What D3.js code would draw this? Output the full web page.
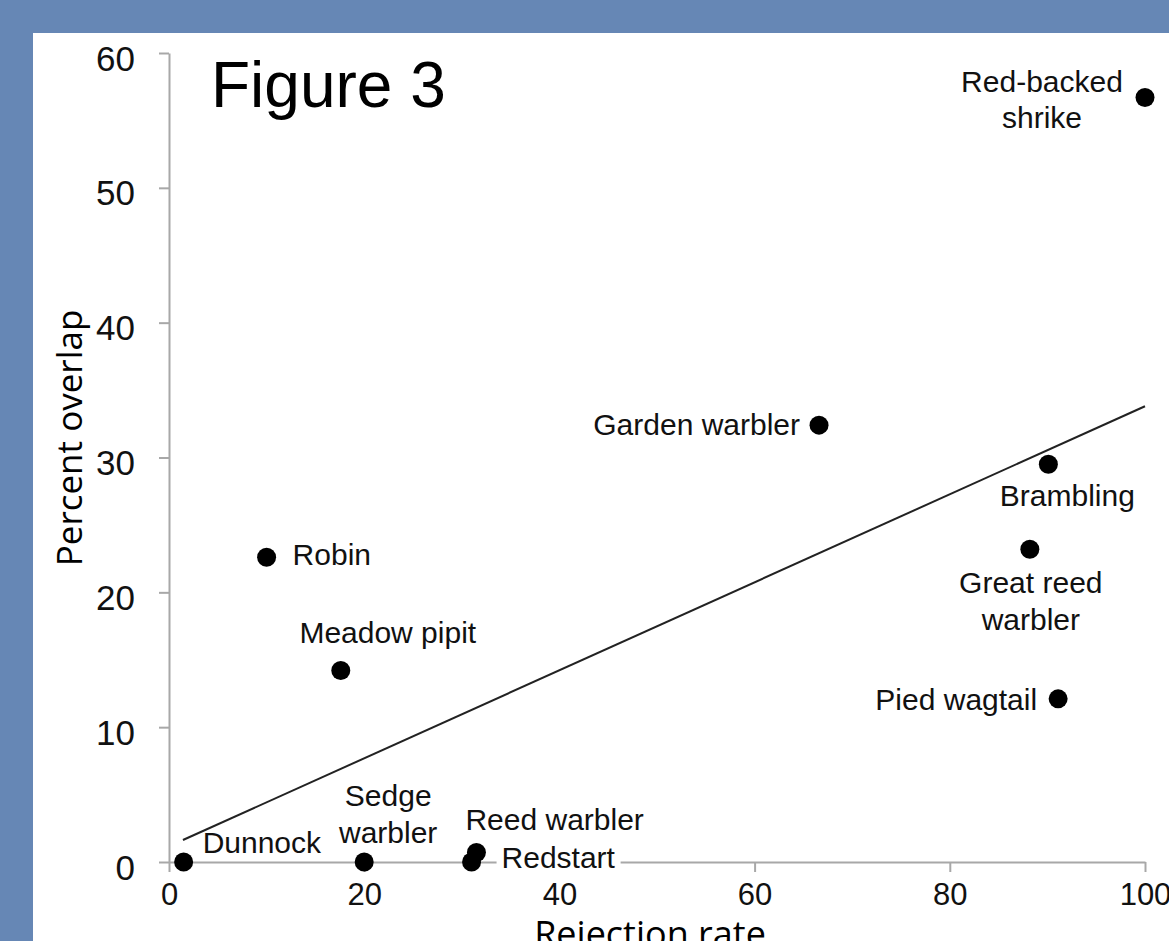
<!DOCTYPE html>
<html>
<head>
<meta charset="utf-8">
<script src="https://cdn.jsdelivr.net/npm/d3@7"></script>
<style>
  html, body { margin: 0; padding: 0; background: #6687b5; }
  svg { display: block; }
</style>
</head>
<body>
<script>
// ---- data ----
const species = ["Red-backed shrike", "Garden warbler", "Brambling", "Great reed warbler", "Pied wagtail",
                 "Robin", "Meadow pipit", "Dunnock", "Sedge warbler", "Reed warbler", "Redstart"];
const rejectionRate = [100.0, 66.6, 90.1, 88.2, 91.1, 10.0, 17.6, 1.5, 20.0, 31.5, 31.0];
const percentOverlap = [56.7, 32.4, 29.5, 23.2, 12.1, 22.6, 14.2, 0.0, 0.0, 0.7, 0.0];
const trendX = [1.43, 100];
const trendY = [1.63, 33.8];
const xTicks = [0, 20, 40, 60, 80, 100];
const yTicks = [0, 10, 20, 30, 40, 50, 60];
const xTitle = "Rejection rate";
const yTitle = "Percent overlap";
const figTitle = "Figure 3";

// label layout (pixel offsets from each dot; layout only)
const labelLayout = [
  { lines: ["Red-backed", "shrike"], anchor: "middle", dx: -103, dy: [-5, 31] },
  { lines: ["Garden warbler"], anchor: "end", dx: -19, dy: [10] },
  { lines: ["Brambling"], anchor: "middle", dx: 19, dy: [42] },
  { lines: ["Great reed", "warbler"], anchor: "middle", dx: 1, dy: [44, 81] },
  { lines: ["Pied wagtail"], anchor: "end", dx: -21, dy: [11] },
  { lines: ["Robin"], anchor: "start", dx: 26, dy: [8] },
  { lines: ["Meadow pipit"], anchor: "middle", dx: 47, dy: [-28] },
  { lines: ["Dunnock"], anchor: "start", dx: 19, dy: [-9] },
  { lines: ["Sedge", "warbler"], anchor: "middle", dx: 24, dy: [-56, -19] },
  { lines: ["Reed warbler"], anchor: "start", dx: -11, dy: [-23] },
  { lines: ["Redstart"], anchor: "start", dx: 30, dy: [6], box: true }
];

const W = 1169, H = 941;
const svg = d3.select("body").append("svg").attr("width", W).attr("height", H);

svg.append("rect").attr("x", 0).attr("y", 0).attr("width", W).attr("height", H).attr("fill", "#6687b5");
svg.append("rect").attr("x", 33).attr("y", 33).attr("width", W - 33).attr("height", H - 33)
   .attr("fill", "#ffffff");

const x = d3.scaleLinear().domain([0, 100]).range([169, 1145]);
const y = d3.scaleLinear().domain([0, 60]).range([862, 53]);

const axisColor = "#a8a8a8";

// x axis
const gx = svg.append("g").attr("transform", `translate(0,${y(0)})`)
  .call(d3.axisBottom(x).tickValues(xTicks).tickSize(10).tickSizeOuter(0).tickFormat(d3.format("d")));
// y axis
const gy = svg.append("g").attr("transform", `translate(${x(0)},0)`)
  .call(d3.axisLeft(y).tickValues(yTicks).tickSize(10).tickSizeOuter(0).tickFormat(d3.format("d")));

[gx, gy].forEach(g => {
  g.select(".domain").attr("stroke", axisColor).attr("stroke-width", 2);
  g.selectAll(".tick line").attr("stroke", axisColor).attr("stroke-width", 2);
  g.selectAll(".tick text").attr("fill", "#111")
    .style("font-family", "'Liberation Sans', Arial, sans-serif");
});
gx.selectAll(".tick text").style("font-size", "31px").attr("y", 43).attr("dy", 0);
gy.selectAll(".tick text").style("font-size", "35px").attr("x", -34).attr("dy", 17);

// trend line
const line = d3.line().x(d => x(d[0])).y(d => y(d[1]));
svg.append("path")
  .datum(trendX.map((v, i) => [v, trendY[i]]))
  .attr("d", line)
  .attr("stroke", "#222").attr("stroke-width", 2).attr("fill", "none");

// labels
const labelFont = "'Liberation Sans', Arial, sans-serif";
species.forEach((name, i) => {
  const L = labelLayout[i];
  const px = x(rejectionRate[i]), py = y(percentOverlap[i]);
  const g = svg.append("g");
  const texts = [];
  L.lines.forEach((ln, j) => {
    texts.push(g.append("text")
      .attr("x", px + L.dx).attr("y", py + L.dy[j])
      .attr("text-anchor", L.anchor)
      .attr("fill", "#111")
      .style("font-family", labelFont).style("font-size", "30px")
      .text(ln));
  });
  if (L.box) {
    const bb = texts[0].node().getBBox();
    g.insert("rect", "text")
      .attr("x", bb.x - 5).attr("y", bb.y)
      .attr("width", bb.width + 10).attr("height", bb.height)
      .attr("fill", "#ffffff");
  }
});

// points
svg.append("g").selectAll("circle")
  .data(species.map((s, i) => [rejectionRate[i], percentOverlap[i]]))
  .join("circle")
  .attr("cx", d => x(d[0])).attr("cy", d => y(d[1]))
  .attr("r", 9.5).attr("fill", "#000");

// titles
svg.append("text").attr("x", 211).attr("y", 107)
  .style("font-family", "'Liberation Sans', Arial, sans-serif").style("font-size", "64px")
  .attr("fill", "#000").text(figTitle);

svg.append("text").attr("x", 650).attr("y", 947).attr("text-anchor", "middle")
  .style("font-family", "'Open Sans', sans-serif").style("font-size", "36px")
  .attr("fill", "#000").text(xTitle);

svg.append("text").attr("transform", "translate(82,438) rotate(-90)").attr("text-anchor", "middle")
  .style("font-family", "'Open Sans', sans-serif").style("font-size", "35px")
  .attr("fill", "#000").text(yTitle);
</script>
</body>
</html>
